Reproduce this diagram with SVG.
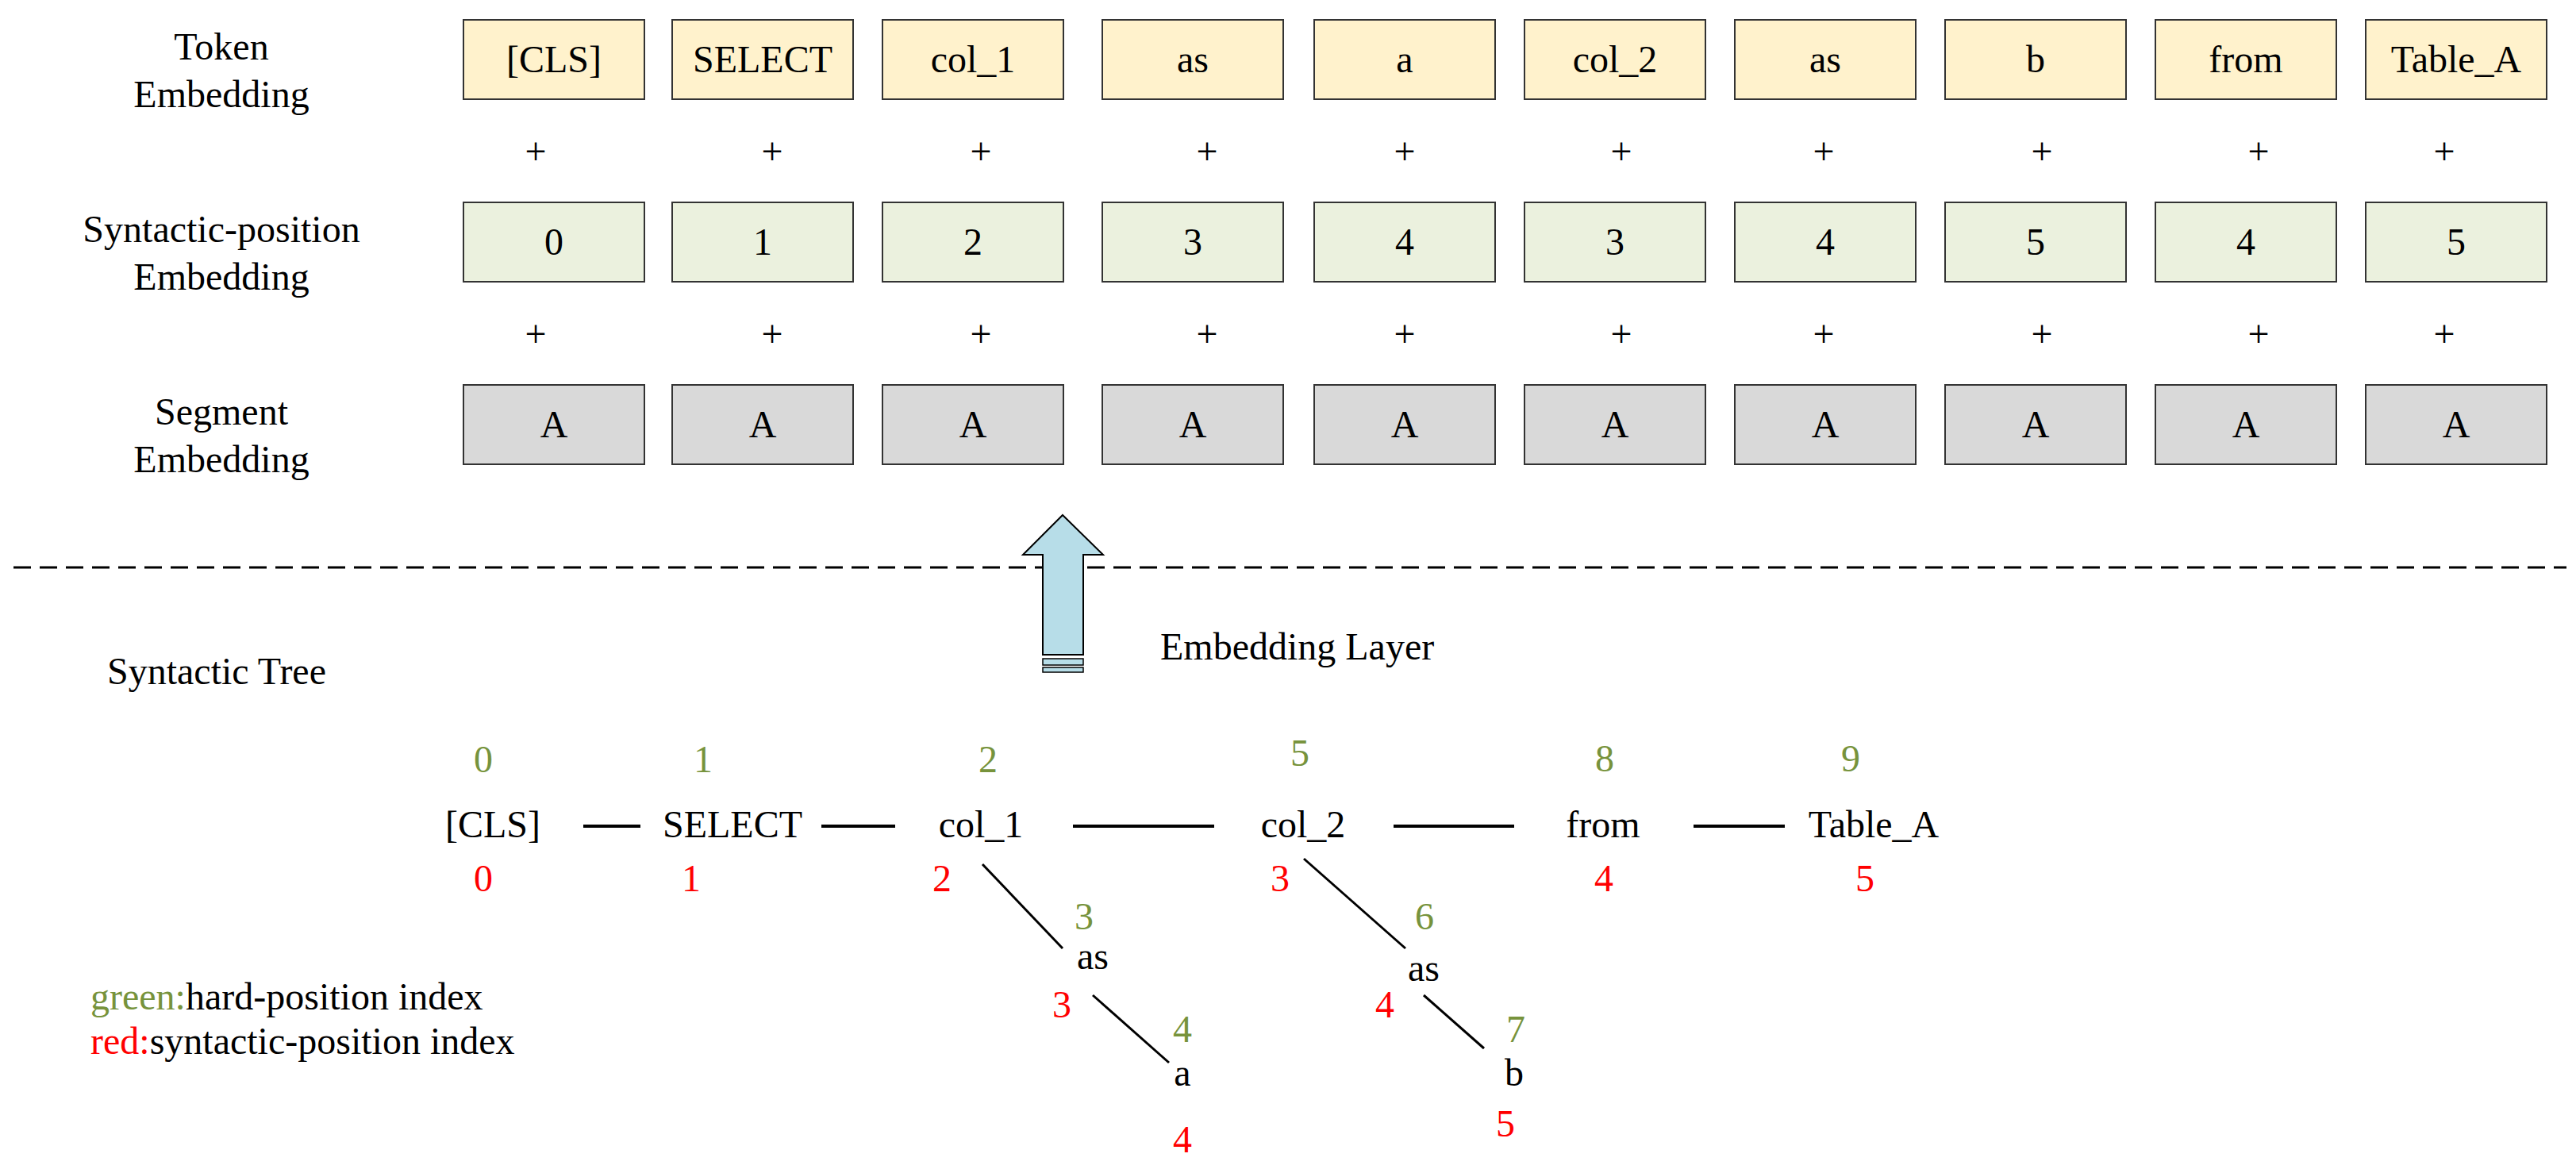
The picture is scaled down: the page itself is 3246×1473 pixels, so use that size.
<svg xmlns="http://www.w3.org/2000/svg" width="3246" height="1473" viewBox="0 0 3246 1473">
<style>
text{font-family:"Liberation Serif","Times New Roman",serif;font-size:48px;fill:#000;text-anchor:middle}
.l{text-anchor:start}
.g{fill:#77933C}.r{fill:#FF0000}
.t{fill:#FFF2CC;stroke:#333;stroke-width:2}
.p{fill:#EBF1DE;stroke:#333;stroke-width:2}
.s{fill:#D9D9D9;stroke:#333;stroke-width:2}
.e{stroke:#000;stroke-width:4;fill:none}
.d{stroke:#000;stroke-width:3;fill:none}
</style>
<g id="labels">
<text x="279" y="75">Token</text><text x="279" y="135">Embedding</text>
<text x="279" y="305">Syntactic-position</text><text x="279" y="365">Embedding</text>
<text x="279" y="535">Segment</text><text x="279" y="595">Embedding</text>
</g>
<g id="token-row">
<rect class="t" x="584" y="25" width="228" height="100"/><text x="698" y="91">[CLS]</text>
<rect class="t" x="847" y="25" width="228" height="100"/><text x="961" y="91">SELECT</text>
<rect class="t" x="1112" y="25" width="228" height="100"/><text x="1226" y="91">col_1</text>
<rect class="t" x="1389" y="25" width="228" height="100"/><text x="1503" y="91">as</text>
<rect class="t" x="1656" y="25" width="228" height="100"/><text x="1770" y="91">a</text>
<rect class="t" x="1921" y="25" width="228" height="100"/><text x="2035" y="91">col_2</text>
<rect class="t" x="2186" y="25" width="228" height="100"/><text x="2300" y="91">as</text>
<rect class="t" x="2451" y="25" width="228" height="100"/><text x="2565" y="91">b</text>
<rect class="t" x="2716" y="25" width="228" height="100"/><text x="2830" y="91">from</text>
<rect class="t" x="2981" y="25" width="228" height="100"/><text x="3095" y="91">Table_A</text>
</g>
<g id="plus">
<text x="675" y="207">+</text><text x="973" y="207">+</text><text x="1236" y="207">+</text><text x="1521" y="207">+</text><text x="1770" y="207">+</text><text x="2043" y="207">+</text><text x="2298" y="207">+</text><text x="2573" y="207">+</text><text x="2846" y="207">+</text><text x="3080" y="207">+</text>
<text x="675" y="437">+</text><text x="973" y="437">+</text><text x="1236" y="437">+</text><text x="1521" y="437">+</text><text x="1770" y="437">+</text><text x="2043" y="437">+</text><text x="2298" y="437">+</text><text x="2573" y="437">+</text><text x="2846" y="437">+</text><text x="3080" y="437">+</text>
</g>
<g id="position-row">
<rect class="p" x="584" y="255" width="228" height="100"/><text x="698" y="321">0</text>
<rect class="p" x="847" y="255" width="228" height="100"/><text x="961" y="321">1</text>
<rect class="p" x="1112" y="255" width="228" height="100"/><text x="1226" y="321">2</text>
<rect class="p" x="1389" y="255" width="228" height="100"/><text x="1503" y="321">3</text>
<rect class="p" x="1656" y="255" width="228" height="100"/><text x="1770" y="321">4</text>
<rect class="p" x="1921" y="255" width="228" height="100"/><text x="2035" y="321">3</text>
<rect class="p" x="2186" y="255" width="228" height="100"/><text x="2300" y="321">4</text>
<rect class="p" x="2451" y="255" width="228" height="100"/><text x="2565" y="321">5</text>
<rect class="p" x="2716" y="255" width="228" height="100"/><text x="2830" y="321">4</text>
<rect class="p" x="2981" y="255" width="228" height="100"/><text x="3095" y="321">5</text>
</g>
<g id="segment-row">
<rect class="s" x="584" y="485" width="228" height="100"/><text x="698" y="551">A</text>
<rect class="s" x="847" y="485" width="228" height="100"/><text x="961" y="551">A</text>
<rect class="s" x="1112" y="485" width="228" height="100"/><text x="1226" y="551">A</text>
<rect class="s" x="1389" y="485" width="228" height="100"/><text x="1503" y="551">A</text>
<rect class="s" x="1656" y="485" width="228" height="100"/><text x="1770" y="551">A</text>
<rect class="s" x="1921" y="485" width="228" height="100"/><text x="2035" y="551">A</text>
<rect class="s" x="2186" y="485" width="228" height="100"/><text x="2300" y="551">A</text>
<rect class="s" x="2451" y="485" width="228" height="100"/><text x="2565" y="551">A</text>
<rect class="s" x="2716" y="485" width="228" height="100"/><text x="2830" y="551">A</text>
<rect class="s" x="2981" y="485" width="228" height="100"/><text x="3095" y="551">A</text>
</g>
<line x1="17" y1="715" x2="3234" y2="715" stroke="#000" stroke-width="3" stroke-dasharray="22 11"/>
<g id="arrow">
<path d="M1339 649 L1390 699 L1365 699 L1365 825 L1314 825 L1314 699 L1289 699 Z" fill="#B7DDE8" stroke="#000" stroke-width="2"/>
<rect x="1314" y="830" width="51" height="8" fill="#B7DDE8" stroke="#000" stroke-width="1.5"/>
<rect x="1314" y="841" width="51" height="6" fill="#B7DDE8" stroke="#000" stroke-width="1.5"/>
<text class="l" x="1462" y="831">Embedding Layer</text>
</g>
<text class="l" x="135" y="862">Syntactic Tree</text>
<g id="tree-nodes">
<text x="621" y="1055">[CLS]</text><text class="g" x="609" y="973">0</text><text class="r" x="609" y="1123">0</text>
<text x="923" y="1055">SELECT</text><text class="g" x="886" y="973">1</text><text class="r" x="871" y="1123">1</text>
<text x="1236" y="1055">col_1</text><text class="g" x="1245" y="973">2</text><text class="r" x="1187" y="1123">2</text>
<text x="1642" y="1055">col_2</text><text class="g" x="1638" y="965">5</text><text class="r" x="1613" y="1123">3</text>
<text x="2020" y="1055">from</text><text class="g" x="2022" y="972">8</text><text class="r" x="2021" y="1123">4</text>
<text x="2361" y="1055">Table_A</text><text class="g" x="2332" y="972">9</text><text class="r" x="2350" y="1123">5</text>
<text x="1377" y="1221">as</text><text class="g" x="1366" y="1171">3</text><text class="r" x="1338" y="1282">3</text>
<text x="1490" y="1368">a</text><text class="g" x="1490" y="1313">4</text><text class="r" x="1490" y="1452">4</text>
<text x="1794" y="1236">as</text><text class="g" x="1795" y="1171">6</text><text class="r" x="1745" y="1282">4</text>
<text x="1908" y="1368">b</text><text class="g" x="1910" y="1313">7</text><text class="r" x="1897" y="1432">5</text>
</g>
<g id="connectors">
<line class="e" x1="735" y1="1041" x2="807" y2="1041"/>
<line class="e" x1="1035" y1="1041" x2="1128" y2="1041"/>
<line class="e" x1="1352" y1="1041" x2="1530" y2="1041"/>
<line class="e" x1="1756" y1="1041" x2="1908" y2="1041"/>
<line class="e" x1="2134" y1="1041" x2="2249" y2="1041"/>
<line class="d" x1="1238" y1="1089" x2="1339" y2="1195"/>
<line class="d" x1="1377" y1="1254" x2="1473" y2="1339"/>
<line class="d" x1="1643" y1="1082" x2="1771" y2="1195"/>
<line class="d" x1="1794" y1="1254" x2="1870" y2="1321"/>
</g>
<g id="legend">
<text class="l" x="114" y="1272"><tspan class="g">green:</tspan>hard-position index</text>
<text class="l" x="114" y="1328"><tspan class="r">red:</tspan>syntactic-position index</text>
</g>
</svg>
